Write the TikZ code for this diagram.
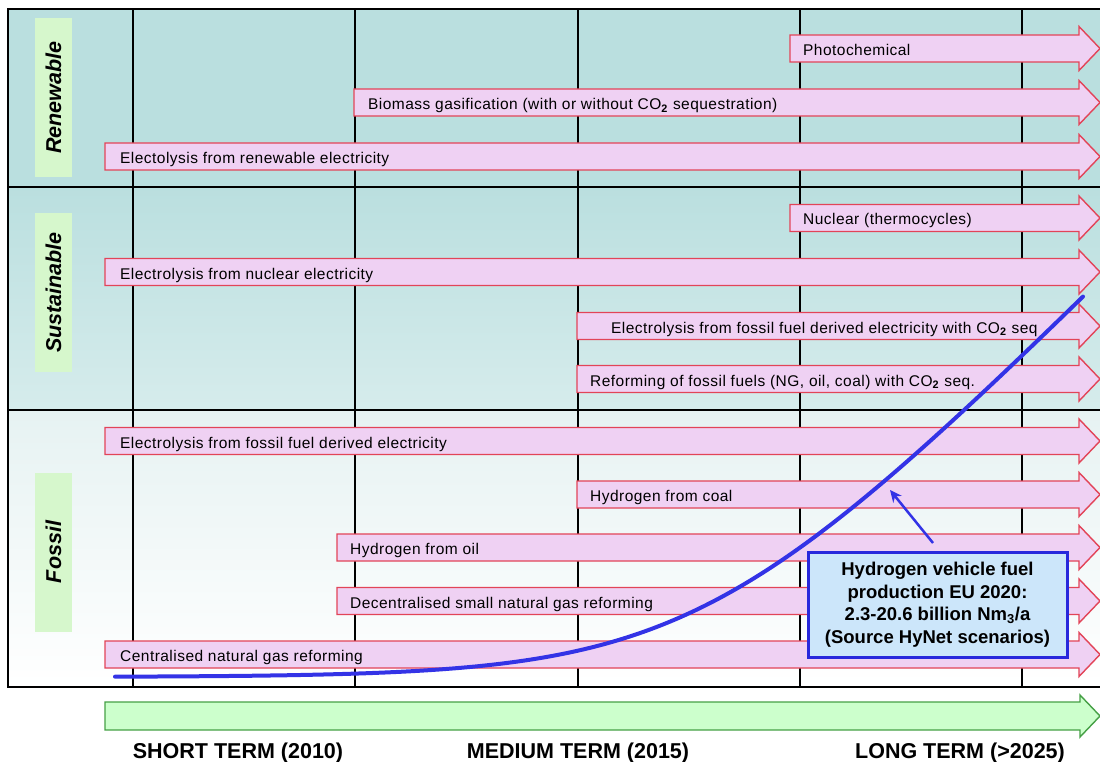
\documentclass[tikz,border=0pt]{standalone}
\usepackage{fontspec}
\setmainfont{Liberation Sans}
\newfontfamily\arrowfont[LetterSpace=3]{Liberation Sans}
\usetikzlibrary{arrows.meta}

\definecolor{tealbg}{RGB}{186,223,223}
\definecolor{tealmid}{RGB}{214,236,236}
\definecolor{fossiltop}{RGB}{230,242,242}
\definecolor{barfill}{RGB}{239,209,243}
\definecolor{barline}{RGB}{226,68,88}
\definecolor{catgreen}{RGB}{214,247,204}
\definecolor{timefill}{RGB}{204,255,204}
\definecolor{timeline}{RGB}{70,160,70}
\definecolor{curveblue}{RGB}{51,51,230}
\definecolor{calloutfill}{RGB}{204,230,250}
\definecolor{calloutline}{RGB}{40,40,220}

% one process bar: name, x start, y centre, text x, text
\newcommand\procarrow[5]{%
  \draw[procbar] (#2,#3-13.5) -- (1079,#3-13.5) -- (1079,#3-22) -- (1100,#3)
    -- (1079,#3+22) -- (1079,#3+13.5) -- (#2,#3+13.5) -- cycle;
  \node[proclabel] (#1) at (#4,#3+7) {#5};
}

\begin{document}
\begin{tikzpicture}[x=1pt,y=-1pt,
  gridline/.style={draw=black,line width=2.2pt},
  procbar/.style={fill=barfill,draw=barline,line width=1.4pt,line join=miter},
  proclabel/.style={anchor=base west,inner sep=0pt,
    font=\arrowfont\fontsize{15.5}{18}\selectfont},
  catbox/.style={fill=catgreen,rotate=90,minimum width=159pt,minimum height=37pt,
    inner sep=0pt,font=\bfseries\itshape\fontsize{21.5}{24}\selectfont},
  timebar/.style={fill=timefill,draw=timeline,line width=1.4pt},
  termlabel/.style={anchor=base,inner sep=0pt,font=\bfseries\fontsize{21.5}{24}\selectfont},
  growth/.style={draw=curveblue,line width=4pt,line cap=round},
  callout/.style={fill=calloutfill,draw=calloutline,line width=3pt,
    minimum width=259pt,minimum height=105pt,align=center,inner sep=0pt,
    font=\bfseries\fontsize{18.5}{22.5}\selectfont},
  pointer/.style={draw=curveblue,line width=2.5pt,-{Stealth[length=12pt,width=11pt]}}
]
\useasboundingbox (0,0) rectangle (1100,762);
\fill[white] (0,0) rectangle (1100,762);

% bands
\fill[tealbg] (8,9) rectangle (1105,187);
\shade[top color=tealbg,bottom color=tealmid] (8,187) rectangle (1105,410);
\shade[top color=fossiltop,bottom color=white] (8,410) rectangle (1105,687);

% grid
\draw[gridline] (8,9) rectangle (1110,687);
\draw[gridline] (8,187) -- (1110,187);
\draw[gridline] (8,410) -- (1110,410);
\foreach \x in {133,355,578,800,1022}
  \draw[gridline] (\x,9) -- (\x,687);

% category labels
\node[catbox] (renewable) at (53.5,97.5) {Renewable};
\node[catbox] (sustainable) at (53.5,292.5) {Sustainable};
\node[catbox] (fossil) at (53.5,552) {Fossil};

% renewable routes
\procarrow{photo}{790}{48.5}{803}{Photochemical}
\procarrow{biomass}{354}{102.5}{368}{Biomass gasification (with or without CO\textsubscript{\textbf{2}} sequestration)}
\procarrow{elren}{105}{156.5}{120}{Electolysis from renewable electricity}

% sustainable routes
\procarrow{nuclear}{790}{218}{803}{Nuclear (thermocycles)}
\procarrow{elnuc}{105}{272}{120}{Electrolysis from nuclear electricity}
\procarrow{elccs}{577}{326}{611}{Electrolysis from fossil fuel derived electricity with CO\textsubscript{\textbf{2}} seq}
\procarrow{refccs}{577}{379}{590}{Reforming of fossil fuels (NG, oil, coal) with CO\textsubscript{\textbf{2}} seq.}

% fossil routes
\procarrow{elfos}{105}{441}{120}{Electrolysis from fossil fuel derived electricity}
\procarrow{coal}{577}{494.5}{590}{Hydrogen from coal}
\procarrow{oil}{337}{547.5}{350}{Hydrogen from oil}
\procarrow{decent}{337}{601}{350}{Decentralised small natural gas reforming}
\procarrow{central}{105}{654.5}{120}{Centralised natural gas reforming}

% growth curve: flat start, bending into a steady climb
\draw[growth] plot[domain=115:1083,samples=150,smooth]
  (\x,{677-103*ln(1+exp(0.0097*(\x-705)))});

% callout
\node[callout] (hynet) at (937.5,604.5)
  {Hydrogen vehicle fuel\\production EU 2020:\\2.3-20.6 billion Nm\textsubscript{3}/a\\(Source HyNet scenarios)};
\coordinate (pstart) at (933,543);
\coordinate (ptip) at (890,490);
\draw[pointer] (pstart) -- (ptip);

% time axis
\draw[timebar] (105,702) -- (1080,702) -- (1080,695) -- (1100,716) -- (1080,737)
  -- (1080,730) -- (105,730) -- cycle;
\node[termlabel] (short) at (238,758) {SHORT TERM (2010)};
\node[termlabel] (medium) at (578,758) {MEDIUM TERM (2015)};
\node[termlabel] (long) at (960,758) {LONG TERM (>2025)};
\end{tikzpicture}
\end{document}
